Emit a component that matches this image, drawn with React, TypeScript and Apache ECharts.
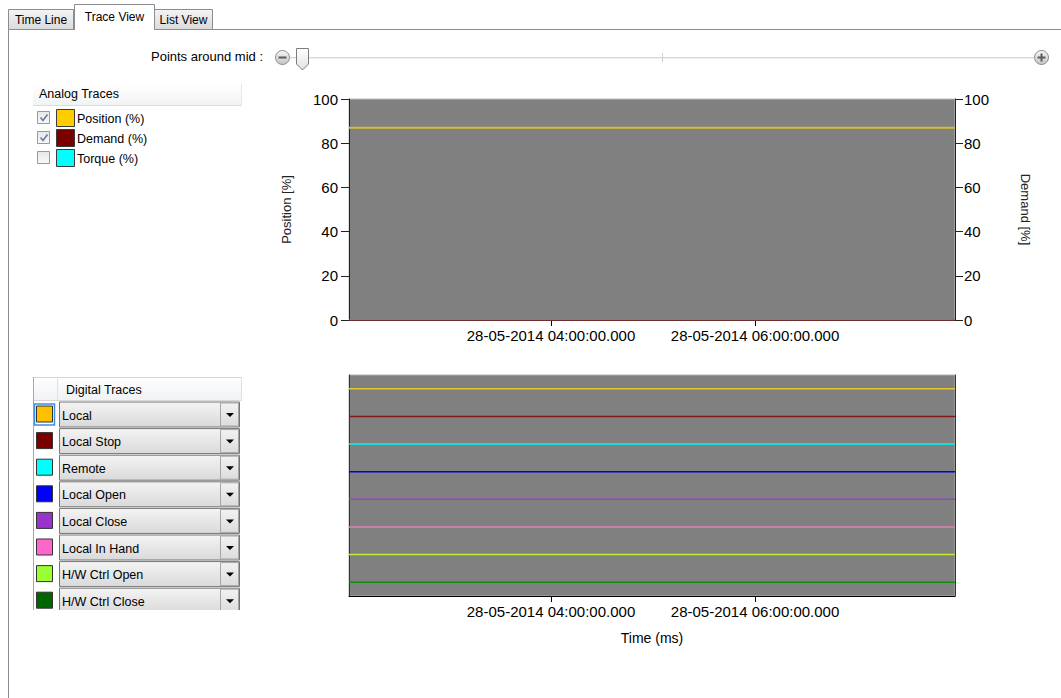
import React, { useEffect, useRef } from 'react';
import * as echarts from 'echarts';

// ---------- data ----------
const tabLabels = ['Time Line', 'Trace View', 'List View'];
const sliderLabel = 'Points around mid :';

const analogTraces = ['Position (%)', 'Demand (%)', 'Torque (%)'];
const analogColors = ['#ffcc00', '#7a0000', '#00ffff'];
const analogChecked = [true, true, false];

const digitalTraces = ['Local', 'Local Stop', 'Remote', 'Local Open', 'Local Close', 'Local In Hand', 'H/W Ctrl Open', 'H/W Ctrl Close'];
const digitalSwatchColors = ['#ffc000', '#7a0000', '#00ffff', '#0000ff', '#9933cc', '#ff66cc', '#99ff33', '#006600'];
const digitalLineColors = ['#e6c828', '#801818', '#00f8f8', '#0000e8', '#9840c8', '#e080b0', '#c0f030', '#108a10'];
const digitalLevels = [7.5, 6.5, 5.5, 4.5, 3.5, 2.5, 1.5, 0.5];

const sampleTimes = [Date.UTC(2014, 4, 28, 2, 1, 12), Date.UTC(2014, 4, 28, 7, 57, 36)];
const tickTimes = [Date.UTC(2014, 4, 28, 4, 0, 0), Date.UTC(2014, 4, 28, 6, 0, 0)];
const positionValues = [87, 87];
const demandValues = [0, 0];

const analogAxisTicks = { min: 0, max: 100, interval: 20 };
const leftAxisName = 'Position [%]';
const rightAxisName = 'Demand [%]';
const timeAxisName = 'Time (ms)';

// ---------- helpers ----------
const pad = (n: number, w = 2) => String(n).padStart(w, '0');
const fmtTime = (v: number) => {
  const d = new Date(v);
  return `${pad(d.getUTCDate())}-${pad(d.getUTCMonth() + 1)}-${d.getUTCFullYear()} ${pad(d.getUTCHours())}:${pad(d.getUTCMinutes())}:${pad(d.getUTCSeconds())}.${pad(d.getUTCMilliseconds(), 3)}`;
};

const UI_FONT = '"Liberation Sans", Arial, sans-serif';
const CHART_FONT = '"Liberation Sans", Arial, sans-serif';

const vgrad = (a: string, b: string) =>
  new echarts.graphic.LinearGradient(0, 0, 0, 1, [
    { offset: 0, color: a },
    { offset: 1, color: b },
  ]);

const txt = (text: string, x: number, y: number, size = 12, align = 'left', color = '#000') => ({
  type: 'text',
  z: 20,
  style: {
    text,
    x,
    y,
    fill: color,
    fontSize: size,
    fontFamily: UI_FONT,
    textAlign: align,
    textVerticalAlign: 'middle',
  },
});

function buildGraphic() {
  const g: any[] = [];
  const border = '#898c95';

  // content border
  g.push({ type: 'line', z: 10, shape: { x1: 8.5, y1: 29.5, x2: 1061, y2: 29.5 }, style: { stroke: border, lineWidth: 1 } });
  g.push({ type: 'line', z: 10, shape: { x1: 8.5, y1: 29.5, x2: 8.5, y2: 698 }, style: { stroke: border, lineWidth: 1 } });

  // tabs
  const tabBoxes = [
    { x: 8.5, y: 9.5, w: 65, h: 20, sel: false },
    { x: 74.5, y: 4.5, w: 80, h: 25, sel: true },
    { x: 154.5, y: 9.5, w: 58, h: 20, sel: false },
  ];
  tabBoxes.forEach((t, i) => {
    g.push({
      type: 'rect', z: t.sel ? 12 : 11,
      shape: { x: t.x, y: t.y, width: t.w, height: t.h },
      style: { fill: t.sel ? '#ffffff' : vgrad('#f4f4f4', '#dadada'), stroke: border, lineWidth: 1 },
    });
    if (t.sel) {
      g.push({ type: 'line', z: 13, shape: { x1: t.x + 0.5, y1: 29.5, x2: t.x + t.w - 0.5, y2: 29.5 }, style: { stroke: '#ffffff', lineWidth: 1.5 } });
    }
    const tt: any = txt(tabLabels[i], t.x + t.w / 2, t.sel ? 17 : 20, 12, 'center');
    tt.z = 14;
    g.push(tt);
  });

  // slider row
  g.push(txt(sliderLabel, 263, 56, 13, 'right'));
  g.push({ type: 'line', z: 10, shape: { x1: 290, y1: 57.5, x2: 1034, y2: 57.5 }, style: { stroke: '#d6d6d6', lineWidth: 1 } });
  g.push({ type: 'line', z: 10, shape: { x1: 290, y1: 58.5, x2: 1034, y2: 58.5 }, style: { stroke: '#f2f2f2', lineWidth: 1 } });
  g.push({ type: 'line', z: 10, shape: { x1: 662.5, y1: 53, x2: 662.5, y2: 62 }, style: { stroke: '#d0d0d0', lineWidth: 1 } });
  [282.5, 1041.5].forEach((cx, i) => {
    g.push({ type: 'circle', z: 11, shape: { cx, cy: 57.5, r: 7 }, style: { fill: vgrad('#f6f6f6', '#c4c4c4'), stroke: '#8c8c8c', lineWidth: 1 } });
    g.push({ type: 'line', z: 12, shape: { x1: cx - 4, y1: 57.5, x2: cx + 4, y2: 57.5 }, style: { stroke: '#5a5a5a', lineWidth: 2 } });
    if (i === 1) g.push({ type: 'line', z: 12, shape: { x1: cx, y1: 53.5, x2: cx, y2: 61.5 }, style: { stroke: '#5a5a5a', lineWidth: 2 } });
  });
  g.push({
    type: 'polygon', z: 12,
    shape: { points: [[296.5, 48.5], [308.5, 48.5], [308.5, 64], [302.5, 70], [296.5, 64]] },
    style: { fill: vgrad('#ffffff', '#e2e2e2'), stroke: '#7c7c7c', lineWidth: 1 },
  });

  // analog traces panel
  g.push({ type: 'rect', z: 10, shape: { x: 33, y: 84, width: 208, height: 22 }, style: { fill: vgrad('#ffffff', '#f1f2f4'), stroke: 'none' } });
  g.push({ type: 'line', z: 10, shape: { x1: 33, y1: 105.5, x2: 241, y2: 105.5 }, style: { stroke: '#dcdcdc', lineWidth: 1 } });
  g.push({ type: 'line', z: 10, shape: { x1: 241.5, y1: 84, x2: 241.5, y2: 106 }, style: { stroke: '#e6e6e6', lineWidth: 1 } });
  g.push(txt('Analog Traces', 39, 94, 12.5));
  analogTraces.forEach((name, i) => {
    const cy = 118 + i * 20;
    g.push({ type: 'rect', z: 11, shape: { x: 37.5, y: cy - 6.5, width: 12, height: 12 }, style: { fill: vgrad('#e8e8e8', '#f8f8f8'), stroke: '#9a9a9a', lineWidth: 1 } });
    if (analogChecked[i]) {
      g.push({ type: 'polyline', z: 12, shape: { points: [[40.5, cy - 0.5], [43, cy + 2.5], [47.5, cy - 3.5]] }, style: { stroke: '#6a7aa8', lineWidth: 1.6, fill: 'none' } });
    }
    g.push({ type: 'rect', z: 11, shape: { x: 56.5, y: cy - 8.5, width: 18, height: 17 }, style: { fill: analogColors[i], stroke: '#3a3a3a', lineWidth: 1 } });
    g.push(txt(name, 77, cy + 1, 12.5));
  });

  // digital traces panel
  g.push({ type: 'rect', z: 10, shape: { x: 33, y: 377, width: 208, height: 24 }, style: { fill: vgrad('#ffffff', '#f0f1f3'), stroke: 'none' } });
  g.push({ type: 'line', z: 10, shape: { x1: 33, y1: 377.5, x2: 241, y2: 377.5 }, style: { stroke: '#d8d8d8', lineWidth: 1 } });
  g.push({ type: 'line', z: 10, shape: { x1: 33, y1: 400.5, x2: 241, y2: 400.5 }, style: { stroke: '#d8d8d8', lineWidth: 1 } });
  g.push({ type: 'line', z: 10, shape: { x1: 57.5, y1: 377, x2: 57.5, y2: 401 }, style: { stroke: '#e0e0e0', lineWidth: 1 } });
  g.push({ type: 'line', z: 10, shape: { x1: 241.5, y1: 377, x2: 241.5, y2: 401 }, style: { stroke: '#e0e0e0', lineWidth: 1 } });
  g.push({ type: 'line', z: 10, shape: { x1: 33.5, y1: 377, x2: 33.5, y2: 610 }, style: { stroke: '#a8a8a8', lineWidth: 1 } });
  g.push(txt('Digital Traces', 66, 390, 12.5));
  digitalTraces.forEach((name, i) => {
    const cy = 414.5 + i * 26.6;
    if (i === 0) {
      g.push({ type: 'rect', z: 11, shape: { x: 34.5, y: cy - 10.5, width: 20, height: 21 }, style: { fill: 'none', stroke: '#3a8ee6', lineWidth: 1.5 } });
    }
    g.push({ type: 'rect', z: 12, shape: { x: 36.5, y: cy - 8.5, width: 16, height: 16 }, style: { fill: digitalSwatchColors[i], stroke: '#333333', lineWidth: 1 } });
    g.push({ type: 'rect', z: 11, shape: { x: 59.5, y: cy - 12.5, width: 180, height: 25 }, style: { fill: vgrad('#f4f4f4', '#d9d9d9'), stroke: '#747474', lineWidth: 1 } });
    g.push({ type: 'rect', z: 12, shape: { x: 220.5, y: cy - 11.5, width: 18, height: 23 }, style: { fill: vgrad('#f2f2f2', '#dcdcdc'), stroke: '#a6a6a6', lineWidth: 1 } });
    g.push({ type: 'polygon', z: 13, shape: { points: [[226, cy - 1.5], [234, cy - 1.5], [230, cy + 2.5]] }, style: { fill: '#000000' } });
    g.push(txt(name, 62, cy + 1, 12.5));
  });
  // clip the bottom of the list
  g.push({ type: 'rect', z: 30, shape: { x: 30, y: 610, width: 220, height: 30 }, style: { fill: '#ffffff' } });

  return g;
}

export default function App() {
  const ref = useRef<HTMLDivElement>(null);

  useEffect(() => {
    if (!ref.current) return;
    const chart = echarts.init(ref.current, undefined, { renderer: 'svg' });

    const xAxisBase = (gridIndex: number, extra: any = {}) => ({
      type: 'value',
      gridIndex,
      min: sampleTimes[0],
      max: sampleTimes[sampleTimes.length - 1],
      axisLine: { show: true, onZero: false, lineStyle: { color: '#000', width: 1 } },
      axisTick: { show: true, customValues: tickTimes, length: 6, lineStyle: { color: '#000' } },
      axisLabel: {
        customValues: tickTimes,
        formatter: (v: number) => fmtTime(v),
        fontSize: 15,
        fontFamily: CHART_FONT,
        color: '#000',
        margin: 8,
      },
      splitLine: { show: false },
      ...extra,
    });

    const analogY = (position: 'left' | 'right', name: string, rotate: number, gap: number, margin: number) => ({
      type: 'value',
      gridIndex: 0,
      position,
      ...analogAxisTicks,
      name,
      nameLocation: 'middle',
      nameRotate: rotate,
      nameGap: gap,
      nameTextStyle: { fontSize: 13, fontFamily: UI_FONT, color: '#222' },
      axisLine: { show: true, lineStyle: { color: '#222', width: 1 } },
      axisTick: { show: true, length: 8, lineStyle: { color: '#222' } },
      axisLabel: { fontSize: 15, fontFamily: UI_FONT, color: '#000', margin },
      splitLine: { show: false },
    });

    const digitalY = (position: 'left' | 'right') => ({
      type: 'value',
      gridIndex: 1,
      position,
      min: 0,
      max: digitalLevels.length,
      axisLine: { show: true, lineStyle: { color: '#333', width: 1 } },
      axisTick: { show: false },
      axisLabel: { show: false },
      splitLine: { show: false },
    });

    chart.setOption({
      animation: false,
      backgroundColor: '#ffffff',
      grid: [
        { left: 349, top: 99, width: 606, height: 221, show: true, backgroundColor: '#808080', borderColor: '#bdbdbd', borderWidth: 1 },
        { left: 349, top: 375, width: 606, height: 221, show: true, backgroundColor: '#808080', borderColor: '#b0b0b0', borderWidth: 1 },
      ],
      xAxis: [
        xAxisBase(0),
        xAxisBase(1, {
          name: timeAxisName,
          nameLocation: 'middle',
          nameGap: 35,
          nameTextStyle: { fontSize: 14, fontFamily: CHART_FONT, color: '#000' },
        }),
      ],
      yAxis: [
        analogY('left', leftAxisName, 90, 56, 11),
        analogY('right', rightAxisName, -90, 64, 9),
        digitalY('left'),
        digitalY('right'),
      ],
      series: [
        {
          name: analogTraces[0],
          type: 'line',
          xAxisIndex: 0,
          yAxisIndex: 0,
          data: sampleTimes.map((t, i) => [t, positionValues[i]]),
          showSymbol: false,
          symbol: 'none',
          lineStyle: { color: '#d2bc3a', width: 2 },
          z: 3,
        },
        {
          name: analogTraces[1],
          type: 'line',
          xAxisIndex: 0,
          yAxisIndex: 1,
          data: sampleTimes.map((t, i) => [t, demandValues[i]]),
          showSymbol: false,
          symbol: 'none',
          lineStyle: { color: '#c85050', width: 1.5 },
          z: 3,
        },
        ...digitalTraces.map((name, i) => ({
          name,
          type: 'line',
          xAxisIndex: 1,
          yAxisIndex: 2,
          data: sampleTimes.map((t) => [t, digitalLevels[i]]),
          showSymbol: false,
          symbol: 'none',
          lineStyle: { color: digitalLineColors[i], width: 1.5 },
          z: 3,
        })),
      ],
      graphic: buildGraphic(),
    });

    return () => chart.dispose();
  }, []);

  return <div ref={ref} style={{ position: 'absolute', left: 0, top: 0, width: 1061, height: 698 }} />;
}
